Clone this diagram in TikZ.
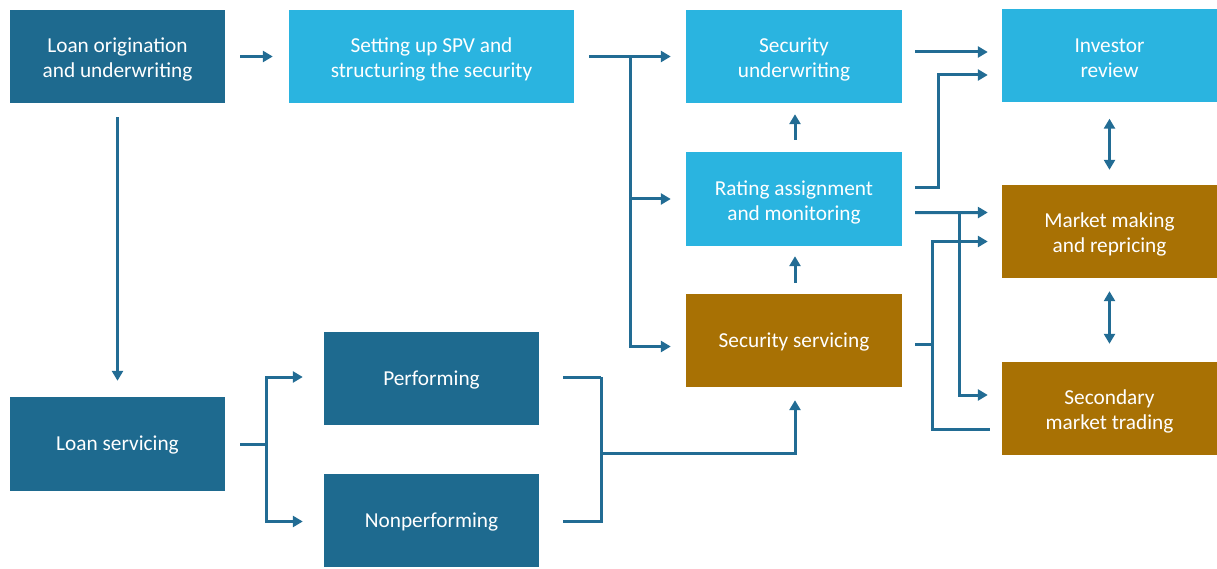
\documentclass[tikz,border=0pt]{standalone}
\usepackage{fontspec}
\setmainfont{Carlito}
\usepackage{tikz}
\usetikzlibrary{arrows.meta}
\definecolor{darkbox}{RGB}{30,106,143}
\definecolor{lightbox}{RGB}{42,180,224}
\definecolor{brownbox}{RGB}{168,113,4}
\definecolor{linkcol}{RGB}{34,108,148}

\begin{document}
\begin{tikzpicture}[x=1pt,y=-1pt,
  box/.style={fill=#1,text=white,inner sep=0pt,minimum height=93pt,minimum width=215pt,
    align=center,font=\fontsize{21.3}{25}\selectfont,text height=53pt,text depth=40pt},
  twoline/.style={text height=67.7pt,text depth=25.3pt},
  line/.style={linkcol,line width=3pt},
  link/.style={line,-{Triangle[length=10pt,width=11pt]}},
  both/.style={line,{Triangle[length=10pt,width=11pt]}-{Triangle[length=10pt,width=11pt]}}]
  \useasboundingbox (0,0) rectangle (1217,569);
  \node[box=darkbox,twoline] (orig) at (117.5,56.5) {Loan origination\\and underwriting};
  \node[box=lightbox,twoline,minimum width=285pt] (spv) at (431.5,56.5) {Setting up SPV and\\structuring the security};
  \node[box=lightbox,twoline,minimum width=216pt] (secuw) at (794,56.5) {Security\\underwriting};
  \node[box=lightbox,twoline,minimum height=92pt] (inv) at (1109.5,56) {Investor\\review};
  \node[box=lightbox,twoline,minimum width=216pt,minimum height=94pt] (rate) at (794,199) {Rating assignment\\and monitoring};
  \node[box=brownbox,twoline] (mkt) at (1109.5,231.5) {Market making\\and repricing};
  \node[box=brownbox,minimum width=216pt] (serv) at (794,340.5) {Security servicing};
  \node[box=brownbox,twoline] (sec) at (1109.5,408.5) {Secondary\\market trading};
  \node[box=darkbox,minimum height=94pt] (lserv) at (117.5,444) {Loan servicing};
  \node[box=darkbox] (perf) at (431.5,378.5) {Performing};
  \node[box=darkbox] (nonp) at (431.5,520.5) {Nonperforming};

  \draw[link] ([xshift=15pt]orig.east) -- ([xshift=-16pt]spv.west);
  \draw[link] ([yshift=-14pt]orig.south) -- ([yshift=16pt]lserv.north);

  \draw[line] ([xshift=15pt]spv.east) -- ++(41pt,0) coordinate (jspv);
  \draw[link] (jspv) -- ([xshift=-15pt]secuw.west);
  \draw[link] (jspv) |- ([xshift=-15pt]rate.west);
  \draw[link] (jspv) |- ([xshift=-15pt,yshift=-6pt]serv.west);

  \draw[link] ([xshift=13pt,yshift=4.5pt]secuw.east) -- ([xshift=-14pt,yshift=4pt]inv.west);
  \draw[link] ([xshift=13pt,yshift=11pt]rate.east) -- ++(23pt,0) |- ([xshift=-14pt,yshift=-19pt]inv.west);
  \draw[link] ([xshift=13pt,yshift=-13.7pt]rate.east) -- ([xshift=-14pt,yshift=19pt]mkt.west);
  \coordinate (jrate) at ([xshift=57pt,yshift=-13.7pt]rate.east);
  \draw[link] (jrate) |- ([xshift=-14pt,yshift=13.5pt]sec.west);
  \draw[line] ([xshift=13pt,yshift=-3.5pt]serv.east) -- ++(17pt,0) coordinate (jserv);
  \draw[link] (jserv) |- ([xshift=-14pt,yshift=-10pt]mkt.west);
  \draw[line] (jserv) |- ([xshift=-12pt,yshift=-20.5pt]sec.west);

  \draw[link] ([xshift=1pt,yshift=12pt]rate.north) -- ([xshift=1pt,yshift=-11pt]secuw.south);
  \draw[link] ([xshift=1pt,yshift=11pt]serv.north) -- ([xshift=1pt,yshift=-10pt]rate.south);
  \draw[both] ([yshift=-16pt]inv.south) -- ([yshift=15pt]mkt.north);
  \draw[both] ([yshift=-13pt]mkt.south) -- ([yshift=18pt]sec.north);

  \draw[line] ([xshift=15pt]lserv.east) -- ++(26pt,0) coordinate (jls);
  \draw[link] (jls) |- ([xshift=-21pt,yshift=1.5pt]perf.west);
  \draw[link] (jls) |- ([xshift=-21pt,yshift=-1pt]nonp.west);
  \draw[line] ([xshift=24pt,yshift=1.5pt]perf.east) -- ++(38pt,0) coordinate (jp);
  \draw[line] ([xshift=24pt,yshift=-1pt]nonp.east) -- ++(38pt,0) -- (jp);
  \coordinate (jpn) at (601,453.5);
  \draw[link] (jpn) -| ([xshift=1pt,yshift=-13pt]serv.south);
\end{tikzpicture}
\end{document}
